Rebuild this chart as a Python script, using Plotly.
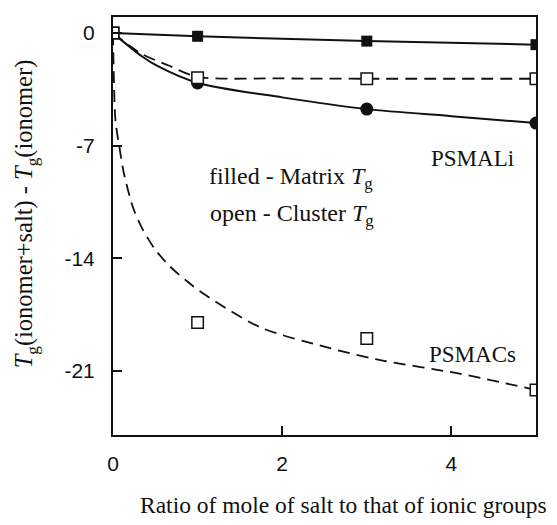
import plotly.graph_objects as go

# measured points
x_pts = [0, 1, 3, 5]
li_matrix_sq = [0, -0.2, -0.5, -0.72]        # filled squares
li_matrix_circ = [0, -3.1, -4.73, -5.6]      # filled circles
li_cluster = [0, -2.78, -2.84, -2.84]        # open squares (PSMALi)
cs_cluster = [0, -18.0, -19.0, -22.2]        # open squares (PSMACs)

# fitted curves
circ_fit_x = [0, 0.34, 0.53, 1, 2, 3, 4, 5]
circ_fit_y = [0, -1.44, -2.06, -3.1, -4.0, -4.73, -5.17, -5.6]
li_cl_fit_x = [0, 0.34, 0.65, 1, 2, 3, 5]
li_cl_fit_y = [0, -1.3, -2.0, -2.72, -2.82, -2.84, -2.84]
cs_fit_x = [0, 0.01, 0.03, 0.079, 0.13, 0.24, 0.34, 0.49, 0.67, 0.89, 1.08,
            1.74, 2.53, 3.12, 4.11, 5]
cs_fit_y = [0, -2.8, -5.5, -7.2, -8.75, -10.9, -12.1, -13.4, -14.5, -15.5, -16.25,
            -18.3, -19.55, -20.3, -21.2, -22.2]

x_ticks = [0, 2, 4]
y_ticks = [0, -7, -14, -21]
y_ticktext = ["0", "-7", "-14", "-21"]

fig = go.Figure()
blk = "#111111"
dash = "12px,7px"

fig.add_trace(go.Scatter(x=cs_fit_x, y=cs_fit_y, mode="lines",
                         line=dict(color=blk, width=1.8, dash=dash, shape="spline", smoothing=0.8)))
fig.add_trace(go.Scatter(x=li_cl_fit_x, y=li_cl_fit_y, mode="lines",
                         line=dict(color=blk, width=1.8, dash=dash, shape="spline", smoothing=0.8)))
fig.add_trace(go.Scatter(x=circ_fit_x, y=circ_fit_y, mode="lines",
                         line=dict(color=blk, width=2, shape="spline", smoothing=0.8)))
fig.add_trace(go.Scatter(x=x_pts, y=li_matrix_sq, mode="lines+markers",
                         line=dict(color=blk, width=2),
                         marker=dict(symbol="square", size=11, color=blk)))
fig.add_trace(go.Scatter(x=x_pts[1:], y=li_matrix_circ[1:], mode="markers",
                         marker=dict(symbol="circle", size=13, color=blk)))
fig.add_trace(go.Scatter(x=x_pts, y=li_cluster, mode="markers",
                         marker=dict(symbol="square", size=11.5, color="white",
                                     line=dict(color=blk, width=1.5))))
fig.add_trace(go.Scatter(x=x_pts, y=cs_cluster, mode="markers",
                         marker=dict(symbol="square", size=11.5, color="white",
                                     line=dict(color=blk, width=1.5))))

serif = "Liberation Serif, Times New Roman, serif"
sans = "Liberation Sans, Arial, sans-serif"

# page body has an 8px margin, so margins are reduced by 8 on left/top
fig.update_layout(
    width=557, height=525,
    margin=dict(l=105, r=29, t=7, b=98),
    paper_bgcolor="white", plot_bgcolor="white",
    showlegend=False,
    xaxis=dict(range=[0, 5], tickvals=x_ticks, ticks="inside", ticklen=9, tickwidth=2,
               tickcolor=blk, showline=True, linecolor=blk, linewidth=2, mirror=True,
               showgrid=False, zeroline=False, ticklabelstandoff=9,
               tickfont=dict(family=sans, size=21, color=blk)),
    yaxis=dict(range=[-25, 1], tickvals=y_ticks, ticktext=y_ticktext, ticks="inside",
               ticklen=9, tickwidth=2,
               tickcolor=blk, showline=True, linecolor=blk, linewidth=2, mirror=True,
               showgrid=False, zeroline=False, ticklabelstandoff=12,
               tickfont=dict(family=sans, size=21, color=blk)),
)

lab_font = dict(family=serif, size=23, color=blk)
note_font = dict(family=serif, size=24, color=blk)
fig.add_annotation(x=4.25, y=-7.8, text="PSMALi", showarrow=False, font=lab_font,
                   xanchor="center", yanchor="middle")
fig.add_annotation(x=4.25, y=-20.0, text="PSMACs", showarrow=False, font=lab_font,
                   xanchor="center", yanchor="middle")
fig.add_annotation(x=2.1, y=-9.0, text="filled - Matrix <i>T</i><sub>g</sub>", showarrow=False,
                   font=note_font, xanchor="center", yanchor="middle")
fig.add_annotation(x=2.12, y=-11.3, text="open - Cluster <i>T</i><sub>g</sub>", showarrow=False,
                   font=note_font, xanchor="center", yanchor="middle")

fig.add_annotation(xref="paper", yref="paper", x=0.546, y=-0.167,
                   xanchor="center", yanchor="middle",
                   text="Ratio of mole of salt to that of ionic groups",
                   showarrow=False, font=dict(family=serif, size=23.5, color=blk))
fig.add_annotation(xref="paper", yref="paper", x=-0.206, y=0.53, textangle=-90,
                   xanchor="center", yanchor="middle",
                   text="<i>T</i><sub>g</sub>(ionomer+salt) - <i>T</i><sub>g</sub>(ionomer)",
                   showarrow=False, font=dict(family=serif, size=24.5, color=blk))

fig.write_html("out.html")
